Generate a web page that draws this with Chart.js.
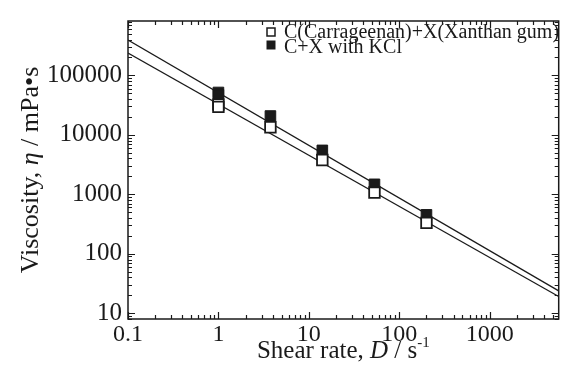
<!DOCTYPE html>
<html>
<head>
<meta charset="utf-8">
<script src="https://cdn.jsdelivr.net/npm/chart.js@4.4.1/dist/chart.umd.min.js"></script>
<style>
html, body { margin: 0; padding: 0; background: #fff; }
#wrap { width: 568px; height: 379px; }
</style>
</head>
<body>
<div id="wrap"><canvas id="viscChart" width="568" height="379"></canvas></div>
<script>
// shear rate (s^-1) and measured viscosity (mPa·s)
const shearRate = [1, 1, 3.76, 14.1, 53.2, 200];
const viscCX = [32500, 29500, 13400, 3770, 1070, 331];
const viscCXKCl = [51500, 47000, 20700, 5470, 1470, 451];

// power-law fit lines, end points
const fitRate = [0.1, 5800];
const fitCX = [238000, 19.1];
const fitCXKCl = [393000, 23.8];

// decade tick labels
const xTicks = [0.1, 1, 10, 100, 1000];
const yTicks = [10, 100, 1000, 10000, 100000];

const seriesNames = ['C(Carrageenan)+X(Xanthan gum)', 'C+X with KCl'];

const FONT = "'Liberation Serif', 'Times New Roman', serif";
const INK = '#1a1a1a';

const pts = (xs, ys) => xs.map((x, i) => ({ x: x, y: ys[i] }));

// draws a run of text pieces (plain / italic / superscript) starting at x0
function drawRuns(ctx, parts, x0, y0) {
    let cx = x0;
    parts.forEach(p => {
        ctx.font = p.f;
        ctx.fillText(p.t, cx, y0 + (p.dy || 0));
        cx += ctx.measureText(p.t).width;
    });
}
function runsWidth(ctx, parts) {
    let w = 0;
    parts.forEach(p => { ctx.font = p.f; w += ctx.measureText(p.t).width; });
    return w;
}

// frame with inward ticks on all four sides, legend, axis titles
const decorations = {
    id: 'decorations',
    afterDraw(chart) {
        const ctx = chart.ctx;
        const a = chart.chartArea;
        const x = chart.scales.x, y = chart.scales.y;
        ctx.save();
        ctx.strokeStyle = INK;
        ctx.lineWidth = 1.5;
        ctx.strokeRect(a.left, a.top, a.right - a.left, a.bottom - a.top);

        ctx.lineWidth = 1.2;
        ctx.beginPath();
        for (let e = -1; e <= 3; e++) {
            for (let m = 1; m <= 9; m++) {
                const v = m * Math.pow(10, e);
                if (v < x.min || v > x.max) continue;
                const px = Math.round(x.getPixelForValue(v)) + 0.5;
                const len = m === 1 ? 7 : 4;
                ctx.moveTo(px, a.bottom); ctx.lineTo(px, a.bottom - len);
                ctx.moveTo(px, a.top); ctx.lineTo(px, a.top + len);
            }
        }
        for (let e = 0; e <= 5; e++) {
            for (let m = 1; m <= 9; m++) {
                const v = m * Math.pow(10, e);
                if (v < y.min || v > y.max) continue;
                const py = Math.round(y.getPixelForValue(v)) + 0.5;
                const len = m === 1 ? 7 : 4;
                ctx.moveTo(a.left, py); ctx.lineTo(a.left + len, py);
                ctx.moveTo(a.right, py); ctx.lineTo(a.right - len, py);
            }
        }
        ctx.stroke();

        // legend
        ctx.font = '20px ' + FONT;
        ctx.fillStyle = INK;
        ctx.textBaseline = 'middle';
        ctx.textAlign = 'left';
        const rows = [{ y: 33, sq: 32, fill: false }, { y: 48, sq: 45, fill: true }];
        rows.forEach((r, i) => {
            if (r.fill) {
                ctx.fillRect(266.5, r.sq - 4.5, 9, 9);
            } else {
                ctx.lineWidth = 1.5;
                ctx.strokeRect(267, r.sq - 4, 8, 8);
            }
            ctx.fillText(seriesNames[i], 284, r.y);
        });

        // x axis title: Shear rate, D / s^-1
        ctx.textBaseline = 'alphabetic';
        const xParts = [
            { t: 'Shear rate, ', f: '25px ' + FONT },
            { t: 'D', f: 'italic 25px ' + FONT },
            { t: ' / s', f: '25px ' + FONT },
            { t: '-1', f: '15px ' + FONT, dy: -11 }
        ];
        drawRuns(ctx, xParts, (a.left + a.right) / 2 - runsWidth(ctx, xParts) / 2, 358);

        // y axis title: Viscosity, η / mPa•s
        const yParts = [
            { t: 'Viscosity, ', f: '26px ' + FONT },
            { t: 'η', f: 'italic 26px ' + FONT },
            { t: ' / mPa•s', f: '26px ' + FONT }
        ];
        const w = runsWidth(ctx, yParts);
        ctx.translate(38, (a.top + a.bottom) / 2);
        ctx.rotate(-Math.PI / 2);
        drawRuns(ctx, yParts, -w / 2, 0);
        ctx.restore();
    }
};

new Chart(document.getElementById('viscChart'), {
    type: 'scatter',
    data: {
        datasets: [
            {
                label: seriesNames[0],
                data: pts(shearRate, viscCX),
                pointStyle: 'rect',
                pointRadius: 7.5,
                backgroundColor: '#fff',
                borderColor: INK,
                borderWidth: 1.8,
                order: 0
            },
            {
                label: seriesNames[1],
                data: pts(shearRate, viscCXKCl),
                pointStyle: 'rect',
                pointRadius: 7.5,
                backgroundColor: INK,
                borderColor: INK,
                borderWidth: 1,
                order: 1
            },
            {
                label: 'fit C+X',
                data: pts(fitRate, fitCX),
                showLine: true,
                pointRadius: 0,
                borderColor: INK,
                borderWidth: 1.3,
                order: 2
            },
            {
                label: 'fit C+X with KCl',
                data: pts(fitRate, fitCXKCl),
                showLine: true,
                pointRadius: 0,
                borderColor: INK,
                borderWidth: 1.3,
                order: 2
            }
        ]
    },
    options: {
        responsive: false,
        animation: false,
        devicePixelRatio: 1,
        layout: { padding: { top: 9, right: 5, left: 0, bottom: 0 } },
        plugins: { legend: { display: false }, tooltip: { enabled: false } },
        scales: {
            x: {
                type: 'logarithmic',
                min: 0.1,
                max: 5800,
                grid: { display: false, drawTicks: false },
                border: { display: false },
                afterBuildTicks: s => { s.ticks = xTicks.map(v => ({ value: v })); },
                afterFit: s => { s.height = 60; },
                ticks: {
                    autoSkip: false,
                    maxRotation: 0,
                    padding: 1,
                    color: INK,
                    font: { family: FONT, size: 24 },
                    callback: v => String(v)
                }
            },
            y: {
                type: 'logarithmic',
                min: 8,
                max: 820000,
                grid: { display: false, drawTicks: false },
                border: { display: false },
                afterBuildTicks: s => { s.ticks = yTicks.map(v => ({ value: v })); },
                afterFit: s => { s.width = 128; },
                ticks: {
                    autoSkip: false,
                    padding: 6,
                    color: INK,
                    font: { family: FONT, size: 25 },
                    callback: v => String(v)
                }
            }
        }
    },
    plugins: [decorations]
});
</script>
</body>
</html>
